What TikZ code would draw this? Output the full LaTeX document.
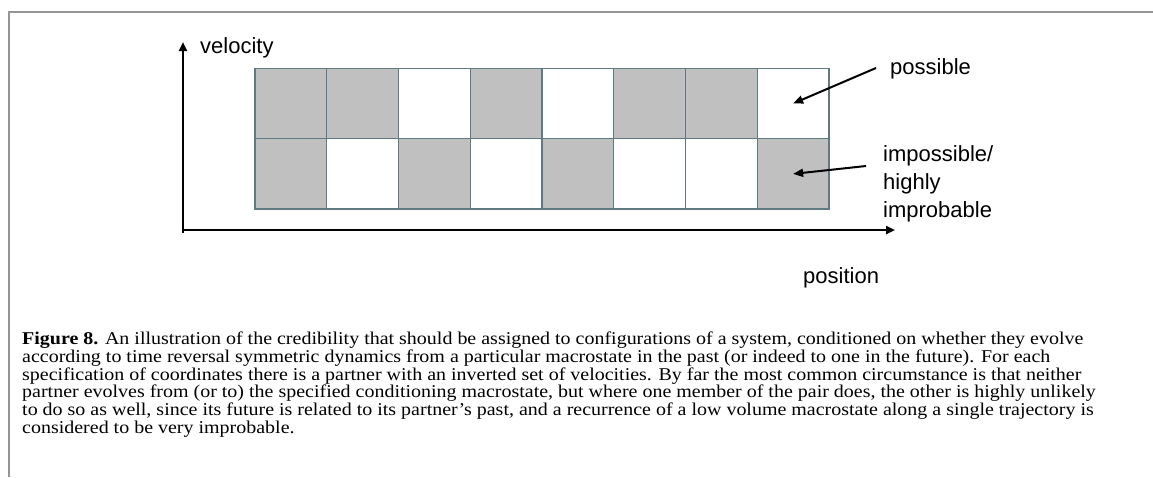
\documentclass[tikz,border=0pt]{standalone}
\usepackage{fontspec}
\setmainfont{Liberation Serif}[FakeStretch=1.11]
\newfontfamily\labelfont{Liberation Sans}
\usepackage{tikz}
\usetikzlibrary{arrows.meta}
\definecolor{cellgrey}{RGB}{192,192,192}
\definecolor{cellline}{RGB}{96,122,130}
\definecolor{framegrey}{RGB}{150,150,150}

\begin{document}
\begin{tikzpicture}[x=1pt,y=-1pt]
			\tikzstyle{cell} = [draw=cellline, line width=1.3pt, minimum width=71.75pt, minimum height=70.4pt, inner sep=0pt]
			\tikzstyle{g} = [cell, fill=cellgrey]
			\tikzstyle{w} = [cell, fill=white]
			\tikzstyle{lbl} = [anchor=base west, inner sep=0pt, font=\labelfont\fontsize{22}{26.5}\selectfont, align=left]
			\tikzstyle{axis} = [line width=2.6pt, -{Triangle[length=9pt,width=8pt]}]
			\tikzstyle{ptr} = [line width=2pt, -{Triangle[length=10pt,width=8pt]}]
			\useasboundingbox (0,0) rectangle (1153,477);
			
			% frame
			\draw [framegrey, line width=1.6pt] (1153,12) -- (9,12) -- (9,477);
			
			% upper row
			\node [g] (u1) at (290.9,103.5) {};
			\node [g] (u2) at (362.6,103.5) {};
			\node [w] (u3) at (434.4,103.5) {};
			\node [g] (u4) at (506.1,103.5) {};
			\node [w] (u5) at (577.9,103.5) {};
			\node [g] (u6) at (649.6,103.5) {};
			\node [g] (u7) at (721.4,103.5) {};
			\node [w] (u8) at (793.1,103.5) {};
			
			% lower row
			\node [g] (d1) at (290.9,173.9) {};
			\node [w] (d2) at (362.6,173.9) {};
			\node [g] (d3) at (434.4,173.9) {};
			\node [w] (d4) at (506.1,173.9) {};
			\node [g] (d5) at (577.9,173.9) {};
			\node [w] (d6) at (649.6,173.9) {};
			\node [w] (d7) at (721.4,173.9) {};
			\node [g] (d8) at (793.1,173.9) {};
			
			% axes
			\coordinate (o) at (183,230);
			\coordinate (vt) at (183,42);
			\coordinate (ht) at (895,230);
			\draw [axis] (o) ++(0,3) -- (vt);
			\draw [axis] (o) ++(-1.3,0) -- (ht);
			
			\node [lbl] (vel) at (200,53) {velocity};
			\node [lbl] (pos) at (803,283) {position};
			\node [lbl] (poss) at (890,74) {possible};
			\node [lbl] (imp) at (883,217) {impossible/\\[1.5pt]highly\\[1.5pt]improbable};
			
			\coordinate (pa) at (876,68);
			\coordinate (ia) at (866,166);
			\draw [ptr] (pa) -- (u8.center);
			\draw [ptr] (ia) -- (d8.center);
			
			% caption
			\node [anchor=north west, inner sep=0pt, align=left, font=\fontsize{18}{17.8}\selectfont] (cap) at (22,331.7)
			{\textbf{Figure 8.} An illustration of the credibility that should be assigned to configurations of a system, conditioned on whether they evolve\\
			according to time reversal symmetric dynamics from a particular macrostate in the past (or indeed to one in the future). For each\\
			specification of coordinates there is a partner with an inverted set of velocities. By far the most common circumstance is that neither\\
			partner evolves from (or to) the specified conditioning macrostate, but where one member of the pair does, the other is highly unlikely\\
			to do so as well, since its future is related to its partner's past, and a recurrence of a low volume macrostate along a single trajectory is\\
			considered to be very improbable.};
			
		\end{tikzpicture}
\end{document}
